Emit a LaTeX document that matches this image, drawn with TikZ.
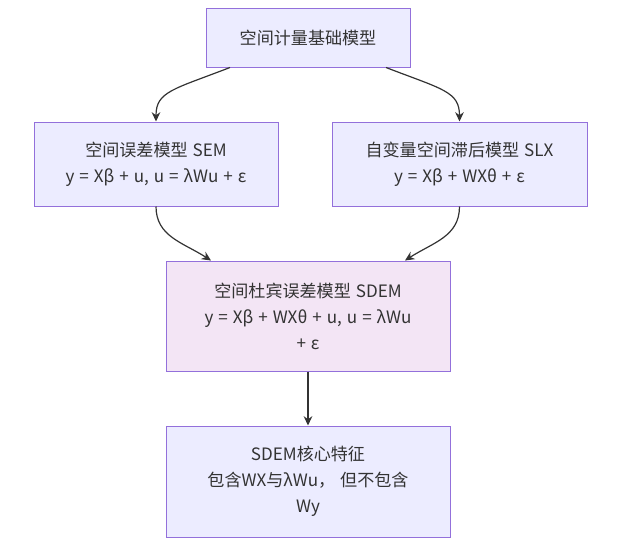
\documentclass[tikz,border=0pt]{standalone}
\usepackage{fontspec}
\setmainfont{Noto Sans CJK SC}[WordSpace=1.3]
\usetikzlibrary{arrows.meta,calc}
\definecolor{boxfill}{HTML}{ECECFF}
\definecolor{boxline}{HTML}{9370DB}
\definecolor{pinkfill}{HTML}{F3E5F5}
\definecolor{txt}{HTML}{333333}
\begin{document}
\begin{tikzpicture}[x=0.75pt,y=-0.75pt,
  box/.style={draw=boxline,fill=boxfill,line width=0.75pt,rectangle,inner sep=0pt,
    align=center,text=txt,font=\fontsize{12.8pt}{19.5pt}\selectfont},
  edge/.style={draw=black!80,line width=0.9pt,-{Stealth[length=7pt,width=6.5pt]}}]
\useasboundingbox (0,0) rectangle (625,547);
\node[box,minimum width=204*0.75pt,minimum height=59*0.75pt] (top) at (308,37.5) {空间计量基础模型};
\node[box,minimum width=244*0.75pt,minimum height=84*0.75pt] (sem) at (156,164) {空间误差模型 SEM\\y = Xβ + u, u = λWu + ε};
\node[box,minimum width=255*0.75pt,minimum height=84*0.75pt] (slx) at (459.5,164) {自变量空间滞后模型 SLX\\y = Xβ + WXθ + ε};
\node[box,fill=pinkfill,minimum width=284*0.75pt,minimum height=110*0.75pt] (sdem) at (308,316) {空间杜宾误差模型 SDEM\\y = Xβ + WXθ + u, u = λWu\\+ ε};
\node[box,minimum width=284*0.75pt,minimum height=111*0.75pt] (core) at (308,481.5) {SDEM核心特征\\包含WX与λWu， 但不包含\\Wy};
\draw[edge] ($(top.south)+(-78,0)$) .. controls ($(top.south)+(-135,22)$) and ($(sem.north)+(0,-30)$) .. (sem.north);
\draw[edge] ($(top.south)+(78,0)$) .. controls ($(top.south)+(135,22)$) and ($(slx.north)+(0,-30)$) .. (slx.north);
\draw[edge] (sem.south) .. controls ($(sem.south)+(0,30)$) and ($(sdem.north)+(-125,-18)$) .. ($(sdem.north)+(-97,0)$);
\draw[edge] (slx.south) .. controls ($(slx.south)+(0,30)$) and ($(sdem.north)+(125,-18)$) .. ($(sdem.north)+(97,0)$);
\draw[edge] (sdem.south) -- (core.north);
\end{tikzpicture}
\end{document}
